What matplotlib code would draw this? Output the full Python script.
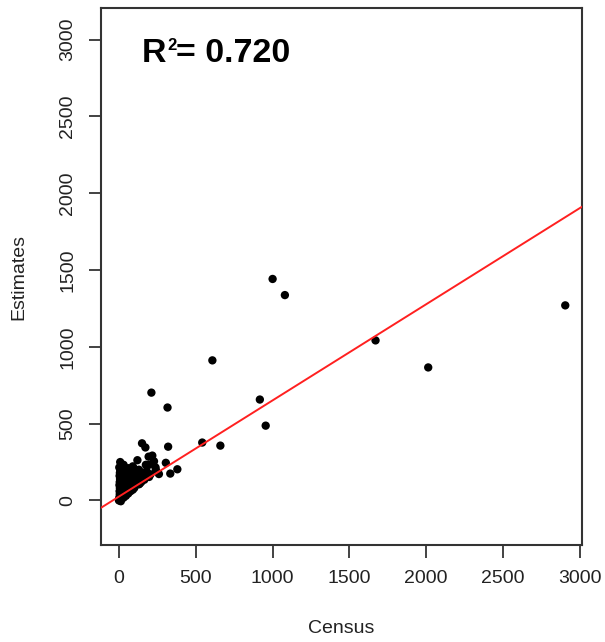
import numpy as np
import matplotlib
matplotlib.use("Agg")
import matplotlib.pyplot as plt

plt.rcParams['font.family'] = ['Liberation Sans', 'DejaVu Sans']

# census vs estimates
census = [2905, 1670, 2013, 1000, 1080, 608, 917, 955, 542, 660,
          211, 316, 320, 380, 334, 305, 260, 150, 172,
          217, 195, 238, 228, 120, 8, 30, 90, 193, 240, 175,
          0, 1, 2, 3, 5, 4, 6, 3, 5, 7, 4, 6, 8, 2, 10,
          15, 20, 18, 22, 25, 20, 28, 30, 35, 25, 38, 40, 35, 32,
          45, 50, 55, 60, 50, 65, 70, 55, 75, 80, 70, 60, 48,
          90, 95, 100, 110, 105, 120, 115, 125, 85, 130, 100,
          140, 150, 160, 170, 180, 145, 135, 165, 196, 205,
          30, 60, 100, 130, 12, 42, 80]
estimates = [1270, 1042, 866, 1442, 1337, 912, 657, 487, 377, 357,
             702, 605, 350, 203, 175, 245, 172, 372, 345,
             292, 232, 215, 255, 262, 250, 232, 222, 285, 198, 232,
             0, 10, 5, 20, 40, 60, 80, 100, 120, 140, 160, 180, 200, 215, 30,
             10, 30, 55, 75, 100, 125, 150, 175, 195, 210, 60, 90, 120, 140,
             30, 50, 80, 110, 140, 160, 185, 200, 60, 95, 130, 210, 180,
             70, 100, 130, 150, 175, 190, 110, 140, 170, 200, 205,
             150, 160, 180, 175, 190, 120, 110, 135, 153, 170,
             18, 45, 82, 105, -5, 35, 75]

fit_slope = 0.626
fit_intercept = 25.5
r2_value = "0.720"

W, H = 605, 642
fig = plt.figure(figsize=(W / 100, H / 100), dpi=100)
ax = fig.add_axes([101 / W, 1 - 545 / H, 481 / W, 537 / H])

ax.scatter(census, estimates, s=36, color='black', edgecolors='none', zorder=3)

xl = np.array([-117, 3014])
ax.plot(xl, fit_intercept + fit_slope * xl, color='#ff2020', lw=1.4, zorder=4)

ax.set_xlim(-117, 3014)
ax.set_ylim(-290, 3206)
ticks = [0, 500, 1000, 1500, 2000, 2500, 3000]
ax.set_xticks(ticks)
ax.set_yticks(ticks)
ax.set_yticklabels([str(t) for t in ticks], rotation=90, va='center')

for s in ax.spines.values():
    s.set_linewidth(1.5)
    s.set_color('#333333')

ax.tick_params(axis='both', direction='out', length=9, width=1.2,
               color='#222222', labelsize=14, labelcolor='#222222', pad=9)

ax.set_xlabel('Census', fontsize=14, color='#222222', labelpad=24)
ax.set_ylabel('Estimates', fontsize=14, color='#222222', labelpad=23)

# R^2 label: R, small superscript 2, then the value, laid out one after another
renderer = fig.canvas.get_renderer()

t_r = fig.text(142 / W, 1 - 62 / H, 'R', fontsize=24.5, fontweight='bold', va='baseline')
x_next = t_r.get_window_extent(renderer).x1 + 0.5
t_2 = fig.text(x_next / W, 1 - 50 / H, '2', fontsize=12, fontweight='bold', va='baseline')
x_next = t_2.get_window_extent(renderer).x1
fig.text(x_next / W, 1 - 62 / H, '= ' + r2_value, fontsize=24.5, fontweight='bold',
         va='baseline')

fig.savefig('out.png', dpi=100)
